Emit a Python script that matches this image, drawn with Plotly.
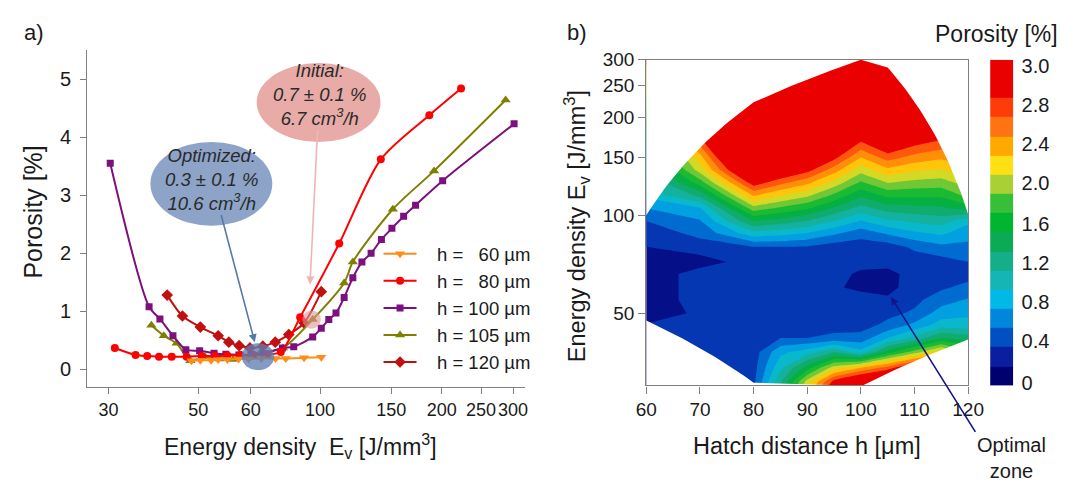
import numpy as np
import plotly.graph_objects as go

W, H = 1077, 484
FONT = "Liberation Sans, Arial, sans-serif"
TXT = "#1a1a1a"
AXC = "#808080"

# ---------------- Panel a: porosity vs energy density ----------------
E60 = [48.1, 50.6, 53.8, 56.0, 59.0, 62.9, 66.6, 71.6, 77.6, 82.3, 91.3, 100.7]
P60 = [0.15, 0.16, 0.16, 0.17, 0.17, 0.18, 0.18, 0.19, 0.19, 0.19, 0.20, 0.21]

E80 = [31.1, 35.0, 37.4, 40.0, 43.0, 46.8, 51.0, 55.0, 59.0, 63.5, 68.5, 74.2, 80.0, 89.3,
       111.5, 141.3, 186.2, 223.1]
P80 = [0.37, 0.25, 0.23, 0.22, 0.22, 0.22, 0.23, 0.23, 0.24, 0.25, 0.25, 0.26, 0.30, 0.90,
       2.17, 3.62, 4.38, 4.84]

E100 = [30.3, 37.8, 40.2, 43.3, 46.6, 50.4, 54.7, 58.5, 63.0, 67.5, 72.5, 80.7, 86.1, 95.9,
        100.7, 105.1, 109.5, 114.7, 120.5, 126.9, 133.7, 141.8, 150.5, 160.9, 172.2, 200.9, 301.7]
P100 = [3.55, 1.08, 0.87, 0.58, 0.34, 0.32, 0.28, 0.26, 0.25, 0.25, 0.27, 0.37, 0.39, 0.56,
        0.71, 0.86, 0.97, 1.24, 1.58, 1.85, 2.00, 2.24, 2.43, 2.64, 2.83, 3.25, 4.23]

E105 = [38.3, 41.1, 44.2, 47.8, 52.0, 56.5, 61.0, 65.5, 71.0, 81.0, 95.9, 114.7, 120.5,
        151.3, 191.3, 287.5]
P105 = [0.76, 0.58, 0.45, 0.15, 0.22, 0.18, 0.17, 0.20, 0.28, 0.37, 0.86, 1.49, 1.85,
        2.76, 3.42, 4.64]

E120 = [41.9, 45.7, 50.6, 56.0, 59.5, 63.1, 67.1, 72.2, 77.5, 83.7, 91.3, 100.7]
P120 = [1.28, 0.92, 0.73, 0.58, 0.47, 0.41, 0.37, 0.40, 0.47, 0.60, 0.80, 1.34]

PAD = "\u00a0\u00a0\u00a0"
SERIES_NAMES = [PAD + "h =\u00a0\u00a0\u00a060 µm", PAD + "h =\u00a0\u00a0\u00a080 µm",
                PAD + "h = 100 µm", PAD + "h = 105 µm", PAD + "h = 120 µm"]
SERIES_COLORS = ["#FF8C1A", "#FF0000", "#7D107D", "#7F7F00", "#C01010"]
SERIES_SYMBOLS = ["triangle-down", "circle", "square", "triangle-up", "diamond"]
SERIES_SIZES = [9, 8, 7, 9, 9]

XA_TICKVALS = [30, 50, 67.4, 100, 150, 200, 250, 300]
XA_TICKTEXT = ["30", "50", "60", "100", "150", "200", "250", "300"]

# ---------------- Panel b: porosity map ----------------
HATCH = [60, 70, 80, 85, 90, 95, 100, 105, 110, 115, 120]
EROWS = [28, 31, 34, 38, 42, 46, 50, 55, 60, 66, 72, 80, 88, 96, 105, 115, 126, 138, 152,
         168, 190, 220, 260, 300]
ZMAP = [
    [0.40, 0.40, 0.50, 1.45, 2.50, 3.30, 3.60, 3.80, 4.00, 4.00, 3.50],
    [0.40, 0.40, 0.45, 1.25, 2.15, 2.95, 3.30, 3.50, 3.70, 3.60, 3.00],
    [0.40, 0.40, 0.42, 1.05, 1.60, 2.20, 2.50, 2.80, 3.20, 3.20, 2.50],
    [0.38, 0.40, 0.40, 0.85, 1.00, 1.30, 0.97, 1.60, 2.00, 2.40, 2.00],
    [0.35, 0.40, 0.40, 0.50, 0.50, 0.55, 0.57, 0.90, 1.15, 1.50, 1.40],
    [0.32, 0.38, 0.40, 0.42, 0.42, 0.42, 0.42, 0.55, 0.75, 1.00, 0.98],
    [0.15, 0.35, 0.40, 0.40, 0.40, 0.40, 0.40, 0.45, 0.53, 0.80, 0.86],
    [0.15, 0.40, 0.40, 0.40, 0.40, 0.40, 0.40, 0.35, 0.45, 0.60, 0.72],
    [0.15, 0.40, 0.40, 0.40, 0.40, 0.33, 0.25, 0.20, 0.45, 0.47, 0.56],
    [0.15, 0.40, 0.40, 0.40, 0.40, 0.40, 0.25, 0.22, 0.40, 0.42, 0.42],
    [0.15, 0.20, 0.40, 0.40, 0.40, 0.40, 0.40, 0.40, 0.40, 0.42, 0.50],
    [0.30, 0.42, 0.50, 0.50, 0.49, 0.40, 0.40, 0.40, 0.54, 0.65, 0.65],
    [0.40, 0.55, 1.03, 0.98, 0.89, 0.74, 0.58, 0.73, 0.86, 0.94, 0.78],
    [0.50, 0.68, 1.51, 1.41, 1.30, 1.10, 0.89, 1.06, 1.14, 1.20, 0.95],
    [0.70, 0.88, 2.01, 1.86, 1.72, 1.48, 1.22, 1.40, 1.44, 1.46, 1.60],
    [0.95, 1.35, 2.52, 2.31, 2.14, 1.85, 1.54, 1.75, 1.74, 1.74, 1.95],
    [1.05, 1.80, 3.03, 2.77, 2.56, 2.23, 1.87, 2.11, 2.04, 2.01, 2.20],
    [1.15, 2.20, 3.54, 3.22, 2.99, 2.61, 2.19, 2.46, 2.34, 2.28, 2.45],
    [1.30, 2.45, 4.00, 3.70, 3.44, 3.01, 2.54, 2.83, 2.66, 2.57, 2.65],
    [1.50, 2.80, 4.30, 4.00, 3.90, 3.43, 2.90, 3.22, 2.99, 2.86, 2.85],
    [1.80, 3.20, 4.50, 4.20, 4.20, 3.90, 3.34, 3.70, 3.39, 3.23, 3.10],
    [2.20, 3.50, 4.80, 4.40, 4.40, 4.20, 3.87, 4.20, 3.87, 3.66, 3.40],
    [2.60, 3.70, 4.90, 4.50, 4.50, 4.40, 4.30, 4.50, 4.20, 4.00, 3.70],
    [3.00, 3.90, 5.00, 4.60, 4.60, 4.50, 4.50, 4.70, 4.40, 4.20, 4.00],
]

# measured domain (convex hull of the experiments)
HULL_H = [60, 80, 100, 105, 120]
HULL_EMIN = [47.5, 30.6, 29.8, 32.7, 41.5]
HULL_EMAX = [100, 222, 300, 284, 100.7]

# colour bands (centre values) of the colour bar
CB_VALUES = [0.0, 0.2, 0.4, 0.6, 0.8, 1.0, 1.2, 1.4, 1.6, 1.8, 2.0, 2.2, 2.4, 2.6, 2.8, 3.0]
CB_COLORS = ["#00006E", "#0A1EA0", "#0050C3", "#0087DC", "#00B9E6", "#13B6B4", "#14AE88",
             "#0BAA55", "#00B52F", "#37C037", "#A9D136", "#FFE113", "#FFA800", "#FF7312",
             "#FF3C07", "#EB0000"]
CB_TICKVALS = [-0.07, 0.36, 0.77, 1.18, 1.59, 2.01, 2.42, 2.83, 3.23]
CB_TICKTEXT = ["0", "0.4", "0.8", "1.2", "1.6", "2.0", "2.4", "2.8", "3.0"]
YB_TICKVALS = [50, 100, 150, 200, 250, 300]


def px(x):
    return x / W


def py(y):
    return 1 - y / H


# colourscale: value v -> fraction (v + 0.1) / 3 (contour start 0.1, step 0.2)
CS = [[0.0, CB_COLORS[0]]]
for v, c in zip(CB_VALUES, CB_COLORS):
    CS.append([min(1.0, (v + 0.1) / 3.0), c])

fig = go.Figure()

# ---- panel a traces (drawn so that h=60 ends up on top) ----
data_a = [(E60, P60), (E80, P80), (E100, P100), (E105, P105), (E120, P120)]
for i in [4, 3, 2, 1, 0]:
    xs, ys = data_a[i]
    fig.add_trace(go.Scatter(
        x=xs, y=ys, mode="lines+markers", name=SERIES_NAMES[i],
        legendrank=i + 1,
        line=dict(color=SERIES_COLORS[i], width=2, shape="spline", smoothing=0.8),
        marker=dict(symbol=SERIES_SYMBOLS[i], size=SERIES_SIZES[i], color=SERIES_COLORS[i],
                    line=dict(width=0)),
        xaxis="x", yaxis="y", hoverinfo="skip"))

# ---- panel b contour ----
fig.add_trace(go.Contour(
    x=HATCH, y=EROWS, z=ZMAP, xaxis="x2", yaxis="y2",
    autocontour=False,
    contours=dict(start=0.1, end=2.9, size=0.2, coloring="fill", showlines=False),
    line=dict(width=0, smoothing=0), colorscale=CS, showscale=False,
    showlegend=False, hoverinfo="skip"))


def edge(hs, es, n=30):
    xs, ys = [], []
    for i in range(len(hs) - 1):
        t = np.linspace(0, 1, n, endpoint=False)
        xs += list(hs[i] + (hs[i + 1] - hs[i]) * t)
        ys += list(es[i] + (es[i + 1] - es[i]) * t)
    xs.append(hs[-1])
    ys.append(es[-1])
    return xs, ys


tx, ty = edge(HULL_H, HULL_EMAX)
bx, by = edge(HULL_H, HULL_EMIN)
mask_top_x = [58] + tx + [122, 122, 58]
mask_top_y = [ty[0]] + ty + [ty[-1], 500, 500]
mask_bot_x = [58] + bx + [122, 122, 58]
mask_bot_y = [by[0]] + by + [by[-1], 20, 20]
for mx, my in [(mask_top_x, mask_top_y), (mask_bot_x, mask_bot_y)]:
    fig.add_trace(go.Scatter(x=mx, y=my, mode="lines", fill="toself", fillcolor="white",
                             line=dict(width=0, color="white"), xaxis="x2", yaxis="y2",
                             showlegend=False, hoverinfo="skip"))

# ---- colour bar ----
cb_edges = [v - 0.1 for v in CB_VALUES] + [3.3]
fig.add_trace(go.Heatmap(
    z=[[v] for v in CB_VALUES], x=[0, 1], y=cb_edges, xaxis="x3", yaxis="y3",
    colorscale=CS, zmin=-0.1, zmax=2.9, showscale=False, hoverinfo="skip"))

axis_common = dict(showgrid=False, zeroline=False, showline=True, linecolor=AXC, linewidth=1.3,
                   ticks="outside", tickcolor=AXC, tickwidth=1.3,
                   tickfont=dict(family=FONT, size=19, color=TXT))

fig.update_layout(
    width=W, height=H, autosize=False,
    margin=dict(l=0, r=0, t=0, b=0),
    paper_bgcolor="white", plot_bgcolor="white",
    font=dict(family=FONT, color=TXT),
    xaxis=dict(axis_common, domain=[px(78.3), px(527)], type="log",
               range=[np.log10(26.6), np.log10(320.6)], tickvals=XA_TICKVALS,
               ticktext=XA_TICKTEXT, ticklen=6, tickangle=0, anchor="y",
               tickfont=dict(family=FONT, size=18, color=TXT)),
    yaxis=dict(axis_common, domain=[py(391.7), py(41.7)], range=[-0.305, 5.5],
               tickvals=[0, 1, 2, 3, 4, 5], ticklen=6, anchor="x", ticklabelstandoff=5,
               tickfont=dict(family=FONT, size=20, color=TXT)),
    xaxis2=dict(axis_common, domain=[px(651.7), px(981.7)], range=[60, 120], dtick=10,
                tick0=60, mirror=True, ticklen=7, tickangle=0, anchor="y2"),
    yaxis2=dict(axis_common, domain=[py(390), py(51.7)], type="log",
                range=[np.log10(30), np.log10(300)], tickvals=YB_TICKVALS, mirror=True,
                ticklen=7, anchor="x2"),
    xaxis3=dict(domain=[px(1004.3), px(1028.3)], range=[0, 1], visible=False, anchor="y3",
                fixedrange=True),
    yaxis3=dict(domain=[py(390), py(51.7)], range=[-0.1, 3.3], side="right", anchor="x3",
                showline=False, showgrid=False, zeroline=False, ticks="",
                tickvals=CB_TICKVALS, ticktext=CB_TICKTEXT, ticklabelstandoff=7,
                tickfont=dict(family=FONT, size=20, color=TXT)),
    legend=dict(x=px(377), y=py(234), xanchor="left", yanchor="top",
                font=dict(family=FONT, size=18.5, color=TXT), bgcolor="rgba(0,0,0,0)",
                traceorder="normal", itemwidth=33, tracegroupgap=0),
    showlegend=True,
)

shapes = [
    # callout ellipses
    dict(type="circle", xref="paper", yref="paper", x0=px(143), x1=px(268), y0=py(224),
         y1=py(137), fillcolor="#8DA3C8", line=dict(width=0), layer="above"),
    dict(type="circle", xref="paper", yref="paper", x0=px(252), x1=px(379), y0=py(137),
         y1=py(55), fillcolor="#E8ABA8", line=dict(width=0), layer="above"),
    # highlighted measurement points
    dict(type="circle", xref="paper", yref="paper", x0=px(236.6), x1=px(270), y0=py(374),
         y1=py(346), fillcolor="rgba(95,125,180,0.78)", line=dict(width=0), layer="above"),
    dict(type="circle", xref="paper", yref="paper", x0=px(298.8), x1=px(317.8), y0=py(331),
         y1=py(312), fillcolor="rgba(225,150,150,0.6)", line=dict(width=0), layer="above"),
]
fig.update_layout(shapes=shapes)


def ann(x, y, text, size=20, **kw):
    d = dict(x=px(x), y=py(y), xref="paper", yref="paper", text=text, showarrow=False,
             xanchor="center", yanchor="middle",
             font=dict(family=FONT, size=size, color=kw.pop("color", TXT)))
    d.update(kw)
    return d


def arrow_ann(tipx, tipy, textx, texty, text, size, color, acolor, **kw):
    d = dict(x=px(tipx), y=py(tipy), xref="paper", yref="paper", text=text,
             ax=textx - tipx, ay=texty - tipy, axref="pixel", ayref="pixel",
             showarrow=True, arrowhead=2, arrowsize=1, arrowwidth=1.6, arrowcolor=acolor,
             standoff=0, font=dict(family=FONT, size=size, color=color))
    d.update(kw)
    return d


CALL = "#2a2a2a"
annotations = [
    ann(24, 23, "a)", 22),
    ann(581, 23, "b)", 22),
    ann(23, 210, "Porosity [%]", 25, textangle=-90),
    ann(297, 453, "Energy density\u00a0\u00a0E<sub>v</sub> [J/mm<sup>3</sup>]", 23),
    ann(580, 224, "Energy density E<sub>v</sub> [J/mm<sup>3</sup>]", 23.5, textangle=-90),
    ann(816, 453, "Hatch distance h [\u03bcm]", 23.5),
    ann(1011, 25, "Porosity [%]", 23),
    # callouts with their arrows
    arrow_ann(250, 345, 207, 182,
              "<i>Optimized:<br>0.3 \u00b1 0.1 %<br>10.6 cm<sup>3</sup>/h</i>",
              18.5, CALL, "#5577AA"),
    arrow_ann(306.7, 285, 316, 95,
              "<i>Initial:<br>0.7 \u00b1 0.1 %<br>6.7 cm<sup>3</sup>/h</i>",
              18.5, CALL, "#F0B4B4"),
    arrow_ann(902.5, 298, 987, 433, "Optimal<br>zone", 20, TXT, "#14148C",
              xanchor="left", yanchor="top"),
]
fig.update_layout(annotations=annotations)

fig.write_html("out.html")
